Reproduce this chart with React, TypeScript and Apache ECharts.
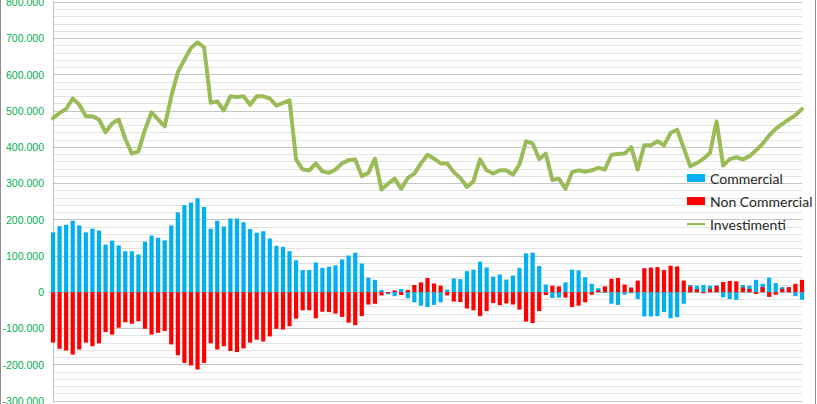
import React, { useEffect, useRef } from "react";
import * as echarts from "echarts";

// values in thousands
const commercial = [
  165, 182, 186, 197, 184, 165, 175, 170, 131, 142, 129, 113, 113, 104, 139, 156, 150, 143, 184, 220,
  240, 247, 259, 235, 175, 197, 181, 203, 203, 193, 174, 164, 168, 148, 128, 125, 113, 88, 61, 61,
  82, 67, 70, 74, 90, 101, 109, 79, 40, 34, 6, -6, -11, 9, -17, -28, -37, -41, -35, -28,
  7, 38, 36, 58, 62, 84, 68, 43, 49, 35, 46, 67, 107, 109, 72, 21, -16, -15, 27, 62,
  60, 41, 23, 11, -2, -32, -35, -7, -3, -19, -67, -67, -66, -55, -72, -69, -32, 20, 18, 20,
  18, 19, -14, -19, -21, 20, 18, 34, 23, 40, 25, 14, 12, -11, -21,
];

const nonCommercial = [
  -139, -156, -161, -172, -158, -139, -149, -141, -110, -117, -98, -83, -87, -80, -101, -117, -112, -107, -144, -174,
  -195, -202, -213, -195, -141, -158, -149, -162, -165, -155, -139, -131, -136, -122, -101, -103, -94, -73, -50, -50,
  -72, -54, -55, -59, -68, -84, -91, -66, -34, -32, -9, -3, 5, -8, 6, 20, 27, 39, 24, 18,
  -9, -26, -27, -45, -50, -66, -52, -30, -36, -31, -34, -48, -81, -85, -52, -8, 18, 16, -15, -41,
  -37, -28, -7, 5, 16, 37, 39, 21, 13, 32, 66, 68, 69, 61, 73, 71, 32, 16, 8, -3,
  9, 17, 28, 31, 30, 13, 9, -5, 14, -13, -7, 9, 14, 23, 34,
];

const investimenti = [
  480, 494, 505, 534, 517, 485, 485, 476, 441, 465, 476, 423, 382, 388, 448, 496, 476, 457, 540, 606,
  641, 673, 689, 675, 522, 526, 501, 540, 538, 540, 517, 540, 540, 534, 514, 522, 529, 366, 338, 336,
  355, 333, 329, 338, 355, 364, 366, 320, 329, 368, 283, 299, 313, 285, 315, 327, 355, 379, 368, 355,
  355, 331, 315, 290, 306, 366, 336, 327, 336, 336, 324, 352, 416, 410, 367, 382, 309, 313, 285, 331,
  336, 332, 336, 343, 338, 379, 381, 382, 400, 338, 405, 405, 416, 405, 439, 448, 397, 347, 356, 368,
  384, 471, 349, 367, 372, 366, 375, 391, 409, 432, 450, 464, 476, 488, 505,
];

const categories = commercial.map((_, i) => String(i + 1));

const seriesNames = ["Commercial", "Non Commercial", "Investimenti"];
const yTicks = { min: -300000, max: 800000, interval: 100000 };

function fmt(v: number): string {
  const s = Math.abs(Math.round(v)).toString().replace(/\B(?=(\d{3})+(?!\d))/g, ".");
  return (v < 0 ? "-" : "") + s;
}

const lineIcon = "path://M0,2.75h20v2.5h-20z M0,0h0.01v8h-0.01z";

export default function App() {
  const ref = useRef<HTMLDivElement>(null);
  useEffect(() => {
    if (!ref.current) return;
    const chart = echarts.init(ref.current, undefined, { renderer: "svg" });
    chart.setOption({
      animation: false,
      backgroundColor: "#ffffff",
      grid: { left: 53, right: 15, top: 2, bottom: 3, containLabel: false, outerBoundsMode: "none" },
      legend: {
        orient: "vertical",
        left: 682,
        top: 166,
        itemWidth: 18,
        itemHeight: 8,
        itemGap: 9,
        textStyle: { fontFamily: "Lato", fontSize: 14, color: "#262626" },
        data: [
          { name: seriesNames[0], icon: "rect" },
          { name: seriesNames[1], icon: "rect" },
          { name: seriesNames[2], icon: lineIcon },
        ],
      },
      xAxis: {
        type: "category",
        data: categories,
        boundaryGap: false,
        axisLine: { show: false },
        axisTick: { show: false },
        axisLabel: { show: false },
        splitLine: { show: false },
      },
      yAxis: {
        type: "value",
        min: yTicks.min,
        max: yTicks.max,
        interval: yTicks.interval,
        axisLine: { show: true, lineStyle: { color: "#BFBFBF", width: 1 } },
        axisTick: { show: false },
        axisLabel: {
          color: "#00B050",
          fontFamily: "Liberation Sans",
          fontSize: 10.5,
          margin: 9,
          formatter: (v: number) => fmt(v),
        },
        splitLine: { show: true, lineStyle: { color: "#C4C4C4", width: 1 } },
        minorTick: { show: false, splitNumber: 5 },
        minorSplitLine: { show: true, lineStyle: { color: "#E3E3E3", width: 1 } },
      },
      series: [
        {
          name: seriesNames[0],
          type: "bar",
          data: commercial.map((v) => v * 1000),
          barWidth: 4.2,
          barGap: "-100%",
          itemStyle: { color: "#00B0F0" },
          z: 2,
        },
        {
          name: seriesNames[1],
          type: "bar",
          data: nonCommercial.map((v) => v * 1000),
          barWidth: 4.2,
          barGap: "-100%",
          itemStyle: { color: "#FF0000" },
          z: 3,
        },
        {
          name: seriesNames[2],
          type: "line",
          data: investimenti.map((v) => v * 1000),
          symbol: "none",
          lineStyle: { color: "#9BBB59", width: 4, join: "round", cap: "round" },
          itemStyle: { color: "#9BBB59" },
          z: 4,
        },
      ],
      graphic: [
        {
          type: "rect",
          shape: { x: 0.5, y: -5, width: 815, height: 420 },
          style: { fill: "none", stroke: "#8C8C8C", lineWidth: 1 },
          silent: true,
        },
      ],
    });
    return () => chart.dispose();
  }, []);
  return (
    <div
      ref={ref}
      style={{ position: "fixed", left: 0, top: 0, width: 817, height: 404 }}
    />
  );
}
